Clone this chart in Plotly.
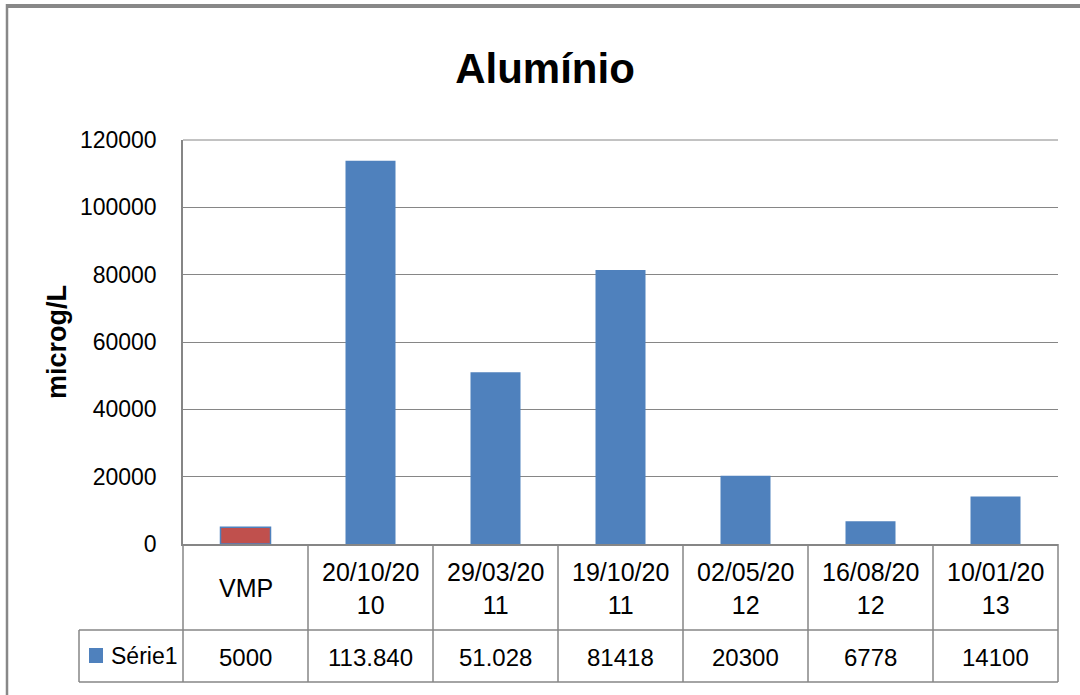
import plotly.graph_objects as go

# ---- data ----
categories = ["VMP", "20/10/2010", "29/03/2011", "19/10/2011", "02/05/2012", "16/08/2012", "10/01/2013"]
header_labels = ["VMP", "20/10/20<br>10", "29/03/20<br>11", "19/10/20<br>11", "02/05/20<br>12", "16/08/20<br>12", "10/01/20<br>13"]
values = [5000, 113840, 51028, 81418, 20300, 6778, 14100]
value_labels = ["5000", "113.840", "51.028", "81418", "20300", "6778", "14100"]
series_name = "Série1"
y_ticks = [0, 20000, 40000, 60000, 80000, 100000, 120000]

# ---- styling ----
BLUE = "#4F81BD"
RED = "#C0504D"
GRID = "#868686"
W, H = 1080, 695
L, R, T, B = 183, 1058, 140, 544  # plot area in pixels
FONT = "Liberation Sans, Arial, sans-serif"

def px_x(p):
    return (p - L) / (R - L)

def px_y(p):
    return (B - p) / (B - T)

bar_colors = [RED] + [BLUE] * (len(values) - 1)
bar_lines = [BLUE] * len(values)

fig = go.Figure()
fig.add_trace(go.Bar(
    x=categories, y=values, width=0.4,
    marker=dict(color=bar_colors, line=dict(color=bar_lines, width=[1.5] + [0] * (len(values) - 1))),
    name=series_name, showlegend=False, hoverinfo="x+y",
))

shapes = []
line_style = dict(color=GRID, width=1.5)
n = len(categories)
y_head = px_y(630)
y_bot = px_y(682)
# top gridline at the axis maximum
shapes.append(dict(type="line", xref="paper", yref="paper", x0=0, x1=1, y0=1, y1=1, line=dict(color=GRID, width=1)))
# column lines
for i in range(n + 1):
    xp = i / n
    shapes.append(dict(type="line", xref="paper", yref="paper", x0=xp, x1=xp, y0=0, y1=y_bot, line=line_style))
# horizontal table lines
shapes.append(dict(type="line", xref="paper", yref="paper", x0=px_x(79), x1=1, y0=y_head, y1=y_head, line=line_style))
shapes.append(dict(type="line", xref="paper", yref="paper", x0=px_x(79), x1=1, y0=y_bot, y1=y_bot, line=line_style))
shapes.append(dict(type="line", xref="paper", yref="paper", x0=px_x(79), x1=px_x(79), y0=y_head, y1=y_bot, line=line_style))
# legend key
shapes.append(dict(type="rect", xref="paper", yref="paper", x0=px_x(89), x1=px_x(103), y0=px_y(648), y1=px_y(663),
                   fillcolor=BLUE, line=dict(width=0)))
# outer chart frame (top and left visible)
shapes.append(dict(type="line", xref="paper", yref="paper", x0=px_x(7), x1=px_x(W + 5), y0=px_y(6), y1=px_y(6),
                   line=dict(color="#888888", width=4)))
shapes.append(dict(type="line", xref="paper", yref="paper", x0=px_x(7), x1=px_x(7), y0=px_y(4), y1=px_y(H + 5),
                   line=dict(color="#888888", width=2.5)))

annotations = []
for cat, lab, val in zip(categories, header_labels, value_labels):
    annotations.append(dict(x=cat, xref="x", y=px_y(588), yref="paper", text=lab, showarrow=False,
                            font=dict(family=FONT, size=25, color="#000000"), xanchor="center", yanchor="middle"))
    annotations.append(dict(x=cat, xref="x", y=px_y(657), yref="paper", text=val, showarrow=False,
                            font=dict(family=FONT, size=24, color="#000000"), xanchor="center", yanchor="middle"))
annotations.append(dict(x=px_x(109), xref="paper", y=px_y(656), yref="paper", text=series_name, showarrow=False,
                        font=dict(family=FONT, size=23, color="#000000"), xanchor="left", yanchor="middle"))
annotations.append(dict(x=px_x(57), xref="paper", y=px_y(342), yref="paper", text="<b>microg/L</b>", showarrow=False,
                        textangle=-90, font=dict(family=FONT, size=27, color="#000000"),
                        xanchor="center", yanchor="middle"))

fig.update_layout(
    width=W, height=H, autosize=False,
    margin=dict(l=L, r=W - R, t=T, b=H - B, pad=0),
    paper_bgcolor="white", plot_bgcolor="white",
    title=dict(text="<b>Alumínio</b>", x=545 / W, xref="container", xanchor="center",
               y=1 - 68 / H, yref="container", yanchor="middle",
               font=dict(family=FONT, size=42, color="#000000")),
    xaxis=dict(type="category", categoryorder="array", categoryarray=categories, range=[-0.5, n - 0.5],
               showticklabels=False, ticks="", showgrid=False, zeroline=False,
               showline=True, linecolor=GRID, linewidth=1.5),
    yaxis=dict(range=[0, 120000], tickvals=y_ticks, ticktext=[str(v) for v in y_ticks],
               showgrid=True, gridcolor=GRID, gridwidth=1, zeroline=False,
               showline=True, linecolor=GRID, linewidth=1.5, ticks="", ticklabelstandoff=20,
               tickfont=dict(family=FONT, size=23, color="#000000")),
    shapes=shapes, annotations=annotations, showlegend=False,
)

fig.write_html("out.html")
